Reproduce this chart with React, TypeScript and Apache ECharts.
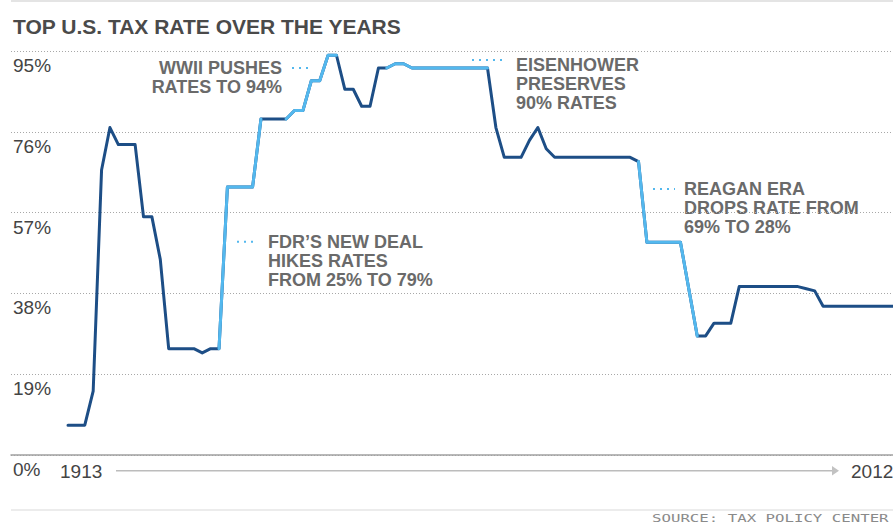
import React, { useEffect, useRef } from "react";
import * as echarts from "echarts";

// ---- data ----
const START_YEAR = 1913;
const rates: number[] = [
  7, 7, 7, 15, 67, 77, 73, 73, 73, 56, // 1913-1922
  56, 46, 25, 25, 25, 25, 24, 25, 25, 63, // 1923-1932
  63, 63, 63, 79, 79, 79, 79, 81, 81, 88, // 1933-1942
  88, 94, 94, 86, 86, 82, 82, 91, 91, 92, // 1943-1952
  92, 91, 91, 91, 91, 91, 91, 91, 91, 91, // 1953-1962
  91, 77, 70, 70, 70, 74, 77, 72, 70, 70, // 1963-1972
  70, 70, 70, 70, 70, 70, 70, 70, 69, 50, // 1973-1982
  50, 50, 50, 50, 39, 28, 28, 31, 31, 31, // 1983-1992
  39.6, 39.6, 39.6, 39.6, 39.6, 39.6, 39.6, 39.6, 39.1, 38.6, // 1993-2002
  35, 35, 35, 35, 35, 35, 35, 35, 35, 35, // 2003-2012
];
const years: number[] = rates.map((_, i) => START_YEAR + i);
const highlightPeriods: [number, number][] = [
  [1931, 1936],
  [1939, 1945],
  [1951, 1963],
  [1981, 1988],
];
const yTicks = [0, 19, 38, 57, 76, 95];
const firstYearLabel = "1913";
const lastYearLabel = "2012";
const titleText = "TOP U.S. TAX RATE OVER THE YEARS";
const sourceText = "SOURCE: TAX POLICY CENTER";
const notes = [
  { text: "WWII PUSHES\nRATES TO 94%", x: 282, y: 58.5, align: "right", dot: [292, 310, 68] },
  { text: "FDR\u2019S NEW DEAL\nHIKES RATES\nFROM 25% TO 79%", x: 268, y: 232, align: "left", dot: [237, 257, 241.7] },
  { text: "EISENHOWER\nPRESERVES\n90% RATES", x: 516, y: 55.5, align: "left", dot: [472, 506, 60] },
  { text: "REAGAN ERA\nDROPS RATE FROM\n69% TO 28%", x: 684, y: 179, align: "left", dot: [653, 675, 189] },
];

const DARK = "#1d4e86";
const LIGHT = "#53b8ee";
const FONT = '"Liberation Sans", Arial, Helvetica, sans-serif';

// pixel layout of the x scale
const PX_PER_YEAR = 8.39;
const GRID_LEFT = 11;
const GRID_RIGHT_EDGE = 893;
const FIRST_X = 68;
const X_MIN = START_YEAR - (FIRST_X - GRID_LEFT) / PX_PER_YEAR;
const X_MAX = X_MIN + (GRID_RIGHT_EDGE - GRID_LEFT) / PX_PER_YEAR;

export default function App() {
  const ref = useRef<HTMLDivElement>(null);
  useEffect(() => {
    if (!ref.current) return;
    const chart = echarts.init(ref.current, undefined, { renderer: "svg" });
    const inHighlight = (y: number) => highlightPeriods.some(([a, b]) => y >= a && y <= b);
    const darkData = years.map((y, i) => [y, rates[i]]);
    const lightData = years.map((y, i) => (inHighlight(y) ? [y, rates[i]] : [y, null]));

    const graphics: any[] = [
      { type: "line", shape: { x1: 11, y1: 1, x2: 893, y2: 1 }, style: { stroke: "#e4e4e4", lineWidth: 2 } },
      {
        type: "text",
        x: 13,
        y: 26,
        style: { text: titleText, fill: "#4a4a4a", fontSize: 21, fontWeight: "bold", fontFamily: FONT, verticalAlign: "middle" },
      },
      { type: "line", shape: { x1: 116, y1: 470.7, x2: 833, y2: 470.7 }, style: { stroke: "#bcbcbc", lineWidth: 1.5 } },
      { type: "polygon", shape: { points: [[832, 466], [839, 470.7], [832, 475.5]] }, style: { fill: "#c2c2c2" } },
      {
        type: "text",
        x: 60,
        y: 471,
        style: { text: firstYearLabel, fill: "#444", fontSize: 19, fontFamily: FONT, verticalAlign: "middle" },
      },
      {
        type: "text",
        x: 851,
        y: 471,
        style: { text: lastYearLabel, fill: "#444", fontSize: 19, fontFamily: FONT, verticalAlign: "middle" },
      },
      { type: "line", shape: { x1: 11, y1: 510, x2: 893, y2: 510 }, style: { stroke: "#ececec", lineWidth: 2 } },
      {
        type: "text",
        x: 652,
        y: 518,
        scaleX: 1.43,
        style: { text: sourceText, fill: "#8a8a8a", fontSize: 11, fontFamily: '"DejaVu Sans Mono", monospace', verticalAlign: "middle" },
      },
    ];
    notes.forEach((n) => {
      graphics.push({
        type: "line",
        shape: { x1: n.dot[0], y1: n.dot[2], x2: n.dot[1], y2: n.dot[2] },
        style: { stroke: LIGHT, lineWidth: 2, lineDash: [2, 5] },
      });
      graphics.push({
        type: "text",
        x: n.x,
        y: n.y,
        style: {
          text: n.text,
          fill: "#6a6a6a",
          fontSize: 18,
          fontWeight: "bold",
          fontFamily: FONT,
          lineHeight: 19,
          align: n.align,
          verticalAlign: "top",
        },
      });
    });

    chart.setOption({
      animation: false,
      grid: { left: GRID_LEFT, right: 0, top: 51, bottom: 68, containLabel: false },
      xAxis: {
        type: "value",
        min: X_MIN,
        max: X_MAX,
        axisLine: { show: true, onZero: true, lineStyle: { color: "#a0a0a0", width: 1.5 } },
        axisTick: { show: false },
        axisLabel: { show: false },
        splitLine: { show: false },
      },
      yAxis: {
        type: "value",
        min: yTicks[0],
        max: yTicks[yTicks.length - 1],
        interval: yTicks[1] - yTicks[0],
        axisLine: { show: false },
        axisTick: { show: false },
        splitLine: { show: true, lineStyle: { color: "#a8a8a8", type: [1, 2], width: 1 } },
        axisLabel: {
          inside: true,
          margin: 2,
          formatter: "{value}%",
          color: "#444",
          fontSize: 19,
          fontFamily: FONT,
          verticalAlign: "top",
          padding: [5, 0, 0, 0],
        },
      },
      series: [
        {
          type: "line",
          data: darkData,
          symbol: "none",
          clip: true,
          lineStyle: { color: DARK, width: 3, cap: "round", join: "round" },
          z: 2,
        },
        {
          type: "line",
          data: lightData,
          symbol: "none",
          clip: true,
          connectNulls: false,
          lineStyle: { color: LIGHT, width: 3, cap: "round", join: "round" },
          z: 3,
        },
      ],
      graphic: graphics,
    });
    return () => chart.dispose();
  }, []);
  return (
    <div
      ref={ref}
      style={{ position: "absolute", left: 0, top: 0, width: 893, height: 523, background: "#fff" }}
    />
  );
}
